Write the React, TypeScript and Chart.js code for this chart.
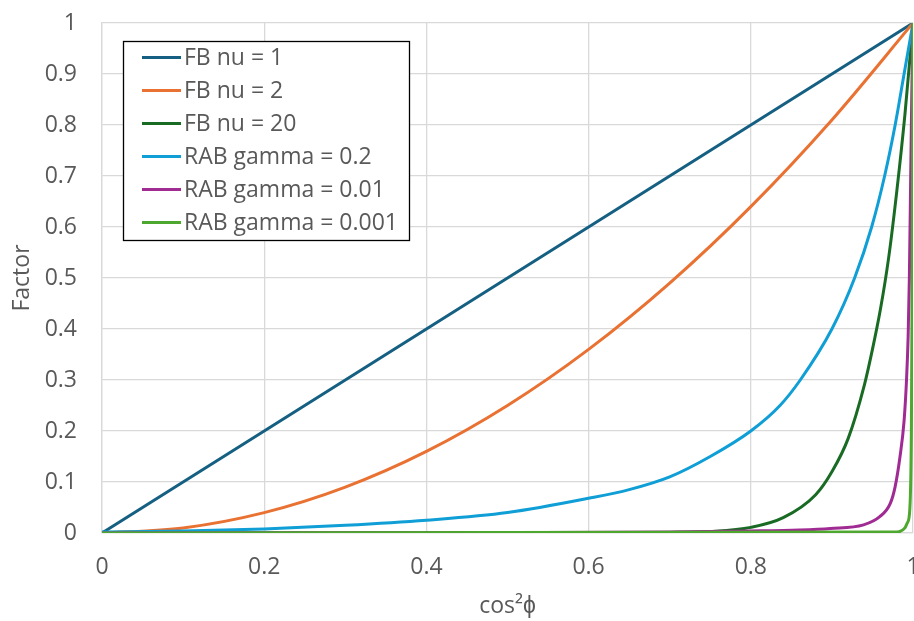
import { useEffect, useRef } from 'react';
import { Chart, registerables } from 'chart.js';

Chart.register(...registerables);

const seriesLabels = ['FB nu = 1', 'FB nu = 2', 'FB nu = 20', 'RAB gamma = 0.2', 'RAB gamma = 0.01', 'RAB gamma = 0.001'];
const seriesColors = ['#156082', '#E97132', '#196B24', '#0F9ED5', '#A02B93', '#4EA72E'];

const fbNu1X = [0, 0.25, 0.5, 0.75, 1];
const fbNu1Y = [0, 0.25, 0.5, 0.75, 1];

const fbNu2X = [0, 0.1, 0.2, 0.3, 0.4, 0.5, 0.6, 0.7, 0.8, 0.9, 1];
const fbNu2Y = [0, 0.01, 0.04, 0.09, 0.16, 0.25, 0.36, 0.49, 0.64, 0.81, 1];

const fbNu20X = [0, 0.6, 0.7, 0.75, 0.8, 0.84, 0.88, 0.9, 0.92, 0.94, 0.95, 0.96, 0.97, 0.98, 0.99, 1];
const fbNu20Y = [0, 0, 0.001, 0.003, 0.011, 0.03, 0.075, 0.12, 0.185, 0.29, 0.36, 0.44, 0.54, 0.67, 0.82, 1];

const rab02X = [0, 0.1, 0.2, 0.3, 0.4, 0.5, 0.6, 0.65, 0.7, 0.75, 0.8, 0.836, 0.861, 0.9, 0.928, 0.949, 0.965, 0.978, 0.989, 1];
const rab02Y = [0.002, 0.004, 0.008, 0.015, 0.025, 0.04, 0.068, 0.085, 0.11, 0.15, 0.2, 0.25, 0.3, 0.4, 0.5, 0.6, 0.7, 0.8, 0.9, 1];

const rab001X = [0, 0.5, 0.7, 0.8, 0.86, 0.898, 0.939, 0.959, 0.972, 0.978, 0.984, 0.989, 0.992, 0.994, 0.9955, 0.997, 0.9985, 1];
const rab001Y = [0, 0.001, 0.002, 0.004, 0.006, 0.009, 0.016, 0.032, 0.058, 0.091, 0.15, 0.22, 0.3, 0.385, 0.5, 0.68, 0.86, 1];

const rab0001X = [0, 0.98, 0.99, 0.993, 0.996, 0.998, 0.999, 1];
const rab0001Y = [0, 0.002, 0.01, 0.02, 0.045, 0.2, 0.5, 1];

const seriesX = [fbNu1X, fbNu2X, fbNu20X, rab02X, rab001X, rab0001X];
const seriesY = [fbNu1Y, fbNu2Y, fbNu20Y, rab02Y, rab001Y, rab0001Y];

const xTitle = 'cos\u00B2\u03D5';
const yTitle = 'Factor';

const FONT = "'Open Sans', sans-serif";
const FONT_SIZE = 23;
const TEXT_COLOR = '#595959';
const GRID_COLOR = '#d9d9d9';

const fmt = (v: any) => String(Number(Number(v).toFixed(1)));

const legendPlugin = {
  id: 'boxLegend',
  afterDatasetsDraw(chart: any) {
    const { ctx, chartArea } = chart;
    const left = chartArea.left + 21;
    const top = chartArea.top + 18;
    const w = 286;
    const h = 199;
    ctx.save();
    ctx.fillStyle = '#ffffff';
    ctx.fillRect(left, top, w, h);
    ctx.strokeStyle = '#000000';
    ctx.lineWidth = 1.3;
    ctx.strokeRect(left + 0.5, top + 0.5, w, h);
    ctx.font = `${FONT_SIZE}px ${FONT}`;
    ctx.textBaseline = 'middle';
    ctx.textAlign = 'left';
    chart.data.datasets.forEach((ds: any, i: number) => {
      const cy = top + 16.5 + i * 33;
      ctx.strokeStyle = ds.borderColor;
      ctx.lineWidth = 3;
      ctx.beginPath();
      ctx.moveTo(left + 19, cy);
      ctx.lineTo(left + 58, cy);
      ctx.stroke();
      ctx.fillStyle = TEXT_COLOR;
      ctx.fillText(ds.label, left + 61, cy + 1);
    });
    ctx.restore();
  },
};

export default function App() {
  const ref = useRef<HTMLCanvasElement>(null);
  useEffect(() => {
    if (!ref.current) return;
    const datasets = seriesLabels.map((label, i) => ({
      label,
      data: seriesX[i].map((x, j) => ({ x, y: seriesY[i][j] })),
      borderColor: seriesColors[i],
      backgroundColor: seriesColors[i],
      borderWidth: 3,
      pointRadius: 0,
      showLine: true,
      cubicInterpolationMode: 'monotone' as const,
      order: seriesLabels.length - 1 - i,
    }));
    const chart = new Chart(ref.current, {
      type: 'scatter',
      data: { datasets },
      options: {
        animation: false,
        responsive: false,
        layout: { padding: { top: 23, right: 1, left: 0, bottom: 0 } },
        plugins: { legend: { display: false }, tooltip: { enabled: false } },
        scales: {
          x: {
            type: 'linear',
            min: 0,
            max: 1,
            ticks: { stepSize: 0.2, color: TEXT_COLOR, font: { family: FONT, size: FONT_SIZE }, padding: 21, maxRotation: 0, callback: fmt },
            grid: { color: GRID_COLOR, lineWidth: 1.3, drawTicks: false },
            border: { color: GRID_COLOR, width: 1.3 },
            title: { display: true, text: xTitle, color: TEXT_COLOR, font: { family: FONT, size: FONT_SIZE }, padding: { top: 0, bottom: 1 } },
            afterFit(scale: any) {
              scale.height = 88;
              scale.paddingLeft = 0;
              scale.paddingRight = 0;
            },
          },
          y: {
            type: 'linear',
            min: 0,
            max: 1,
            ticks: { stepSize: 0.1, color: TEXT_COLOR, font: { family: FONT, size: FONT_SIZE }, padding: 25, callback: fmt },
            grid: { color: GRID_COLOR, lineWidth: 1.3, drawTicks: false },
            border: { color: GRID_COLOR, width: 1.3 },
            title: { display: true, text: yTitle, color: TEXT_COLOR, font: { family: FONT, size: FONT_SIZE }, padding: { top: 9, bottom: 0 } },
            afterFit(scale: any) {
              scale.width = 102;
              scale.paddingTop = 0;
              scale.paddingBottom = 0;
            },
          },
        },
      },
      plugins: [legendPlugin],
    });
    return () => chart.destroy();
  }, []);
  return (
    <div style={{ position: 'fixed', left: 0, top: 0, width: 914, height: 621, background: '#fff' }}>
      <canvas ref={ref} width={914} height={621} />
    </div>
  );
}
